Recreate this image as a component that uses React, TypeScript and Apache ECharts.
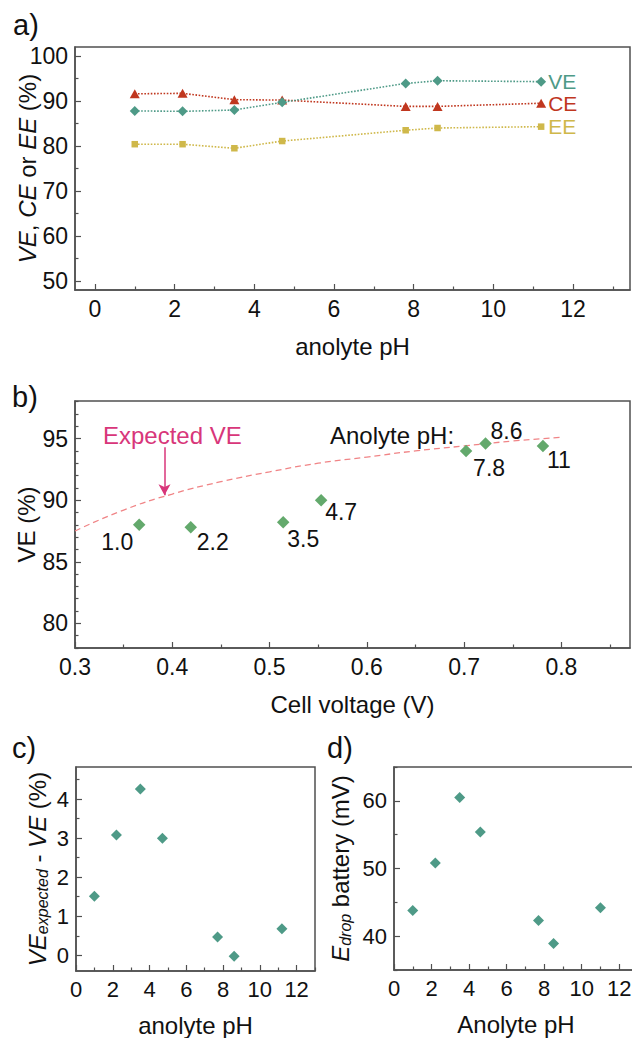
import React, { useEffect, useRef } from 'react';
import * as echarts from 'echarts';

// ---------- data ----------
// panel a
const pHA = [1.0, 2.2, 3.5, 4.7, 7.8, 8.6, 11.2];
const veA = [87.8, 87.7, 88.0, 89.7, 93.9, 94.5, 94.3];
const ceA = [91.6, 91.7, 90.3, 90.2, 88.8, 88.8, 89.5];
const eeA = [80.4, 80.4, 79.5, 81.1, 83.5, 84.0, 84.3];
// panel b
const cellVoltage = [0.366, 0.419, 0.514, 0.553, 0.702, 0.722, 0.781];
const veB = [88.0, 87.8, 88.2, 90.0, 94.0, 94.6, 94.4];
const pHLabels = ['1.0', '2.2', '3.5', '4.7', '7.8', '8.6', '11'];
const expectedV = [0.30, 0.35, 0.40, 0.45, 0.50, 0.55, 0.60, 0.65, 0.70, 0.75, 0.80];
const expectedVE = [87.5, 89.2, 90.5, 91.5, 92.3, 93.0, 93.5, 94.0, 94.4, 94.8, 95.1];
// panel c
const pHC = [1.0, 2.2, 3.5, 4.7, 7.7, 8.6, 11.2];
const veDiff = [1.51, 3.08, 4.26, 3.0, 0.47, -0.02, 0.68];
// panel d
const pHD = [1.0, 2.2, 3.5, 4.6, 7.7, 8.5, 11.0];
const eDrop = [43.8, 50.8, 60.5, 55.4, 42.3, 38.9, 44.2];

// tick labels
const phTicks = [0, 2, 4, 6, 8, 10, 12];
const phMinor = [1, 3, 5, 7, 9, 11, 13];
const effTicks = [50, 60, 70, 80, 90, 100];
const effMinor = [55, 65, 75, 85, 95];
const voltTicks = [0.3, 0.4, 0.5, 0.6, 0.7, 0.8];
const voltMinor = [0.35, 0.45, 0.55, 0.65, 0.75, 0.85];
const veTicks = [80, 85, 90, 95];
const veMinor = [78, 79, 81, 82, 83, 84, 86, 87, 88, 89, 91, 92, 93, 94, 96, 97, 98];
const diffTicks = [0, 1, 2, 3, 4];
const diffMinor = [0.5, 1.5, 2.5, 3.5, 4.5];
const dropTicks = [40, 50, 60];
const dropMinor = [35, 45, 55, 65];

const FONT = '"Liberation Sans", Arial, Helvetica, sans-serif';
const AX = '#505050';
const TXT = '#111111';
const C_VE = '#4e9a87';
const C_CE = '#c0371f';
const C_EE = '#cfb84a';
const C_B = '#63a96c';
const C_EXP = '#f08486';
const C_ARROW = '#d8367a';

function axes(dim: 'x' | 'y', gridIndex: number, min: number, max: number, major: number[], minor: number[], extra: any = {}) {
  const pos = dim === 'x' ? 'bottom' : 'left';
  const main = {
    type: 'value', gridIndex, min, max, position: pos,
    axisLine: { show: true, onZero: false, lineStyle: { color: AX, width: 1.5 } },
    axisTick: { show: true, inside: true, length: 6, customValues: major, lineStyle: { color: AX, width: 1.2 } },
    axisLabel: { show: true, customValues: major, fontSize: 23, fontFamily: FONT, color: TXT, margin: 7, ...(extra.axisLabel || {}) },
    splitLine: { show: false },
    nameLocation: 'middle',
    nameMoveOverlap: false,
    nameTextStyle: { fontSize: 24, fontFamily: FONT, color: TXT, ...(extra.nameTextStyle || {}) },
    name: extra.name, nameGap: extra.nameGap, nameRotate: extra.nameRotate,
  };
  const sub = {
    type: 'value', gridIndex, min, max, position: pos,
    axisLine: { show: false, onZero: false },
    axisTick: { show: true, inside: true, length: 3.5, customValues: minor, lineStyle: { color: AX, width: 1.2 } },
    axisLabel: { show: false },
    splitLine: { show: false },
  };
  return [main, sub];
}

export default function App() {
  const ref = useRef<HTMLDivElement>(null);
  useEffect(() => {
    if (!ref.current) return;
    const chart = echarts.init(ref.current, null, { renderer: 'svg' });
    const gridBase = {
      show: true, borderColor: AX, borderWidth: 1.5, backgroundColor: 'transparent',
      containLabel: false, outerBoundsMode: 'none',
    };
    const labelOffsets = [[-22, 17], [22, 15], [20, 17], [20, 12], [23, 17], [21, -13], [16, 14]];
    const richItalic = {
      i: { fontStyle: 'italic', fontSize: 24, fontFamily: FONT, color: TXT },
      n: { fontSize: 24, fontFamily: FONT, color: TXT },
      s: { fontStyle: 'italic', fontSize: 16, fontFamily: FONT, color: TXT, padding: [10, 0, 0, 0] },
    };
    const xAxis = [
      ...axes('x', 0, -0.5, 13.43, phTicks, phMinor, { name: 'anolyte pH', nameGap: 44 }),
      ...axes('x', 1, 0.3, 0.8705, voltTicks, voltMinor, { name: 'Cell voltage (V)', nameGap: 44, axisLabel: { formatter: (v: number) => v.toFixed(1) } }),
      ...axes('x', 2, 0, 13, phTicks, phMinor, { name: 'anolyte pH', nameGap: 42, axisLabel: { fontSize: 22 } }),
      ...axes('x', 3, 0, 13, phTicks, phMinor, { name: 'Anolyte pH', nameGap: 42, axisLabel: { fontSize: 22 } }),
    ];
    const yAxis = [
      ...axes('y', 0, 48, 102, effTicks, effMinor, {
        name: '{i|VE}{n|, }{i|CE}{n| or }{i|EE}{n| (%)}', nameGap: 36, nameTextStyle: { rich: richItalic },
      }),
      ...axes('y', 1, 78, 98.05, veTicks, veMinor, { name: 'VE (%)', nameGap: 37 }),
      ...axes('y', 2, -0.4, 4.82, diffTicks, diffMinor, {
        name: '{i|VE}{s|expected}{n| - }{i|VE}{n| (%)}', nameGap: 26, axisLabel: { fontSize: 22 }, nameTextStyle: { rich: richItalic },
      }),
      ...axes('y', 3, 35, 65, dropTicks, dropMinor, {
        name: '{i|E}{s|drop}{n| battery (mV)}', nameGap: 41, axisLabel: { fontSize: 22 }, nameTextStyle: { rich: richItalic },
      }),
    ];
    const lineSeries = (name: string, ys: number[], color: string, symbol: string, symbolSize: any) => ({
      type: 'line', name, xAxisIndex: 0, yAxisIndex: 0,
      data: pHA.map((x, i) => [x, ys[i]]),
      symbol, symbolSize, showSymbol: true,
      itemStyle: { color, opacity: 1 },
      lineStyle: { color, width: 1.6, type: 'dotted' },
      endLabel: { show: true, formatter: name, color, fontSize: 21, fontFamily: FONT, distance: 7 },
      z: 3,
    });
    const option: any = {
      animation: false,
      backgroundColor: '#ffffff',
      grid: [
        { ...gridBase, left: 75, top: 47, width: 555, height: 243 },
        { ...gridBase, left: 75, top: 401, width: 555, height: 247 },
        { ...gridBase, left: 76, top: 767, width: 239, height: 204 },
        { ...gridBase, left: 394, top: 767, width: 244, height: 203 },
      ],
      xAxis, yAxis,
      series: [
        lineSeries('CE', ceA, C_CE, 'triangle', [10, 9]),
        lineSeries('VE', veA, C_VE, 'diamond', 10),
        lineSeries('EE', eeA, C_EE, 'rect', 6.5),
        {
          type: 'line', name: 'Expected VE', xAxisIndex: 2, yAxisIndex: 2,
          data: expectedV.map((v, i) => [v, expectedVE[i]]),
          smooth: true, showSymbol: false, symbol: 'none',
          lineStyle: { color: C_EXP, width: 1.3, type: [6, 4] },
          markLine: {
            silent: true, symbol: ['none', 'arrow'], symbolSize: [9, 11],
            label: { show: false },
            lineStyle: { color: C_ARROW, width: 1.5, type: 'solid' },
            data: [[{ coord: [0.392, 94.3] }, { coord: [0.392, 90.4] }]],
          },
        },
        {
          type: 'scatter', name: 'VE vs cell voltage', xAxisIndex: 2, yAxisIndex: 2,
          symbol: 'diamond', symbolSize: 12.5,
          itemStyle: { color: C_B, opacity: 1 },
          data: cellVoltage.map((v, i) => ({ value: [v, veB[i]], label: { offset: labelOffsets[i] } })),
          label: {
            show: true, position: 'inside', fontSize: 23, fontFamily: FONT, color: TXT, opacity: 1,
            textBorderWidth: 0, textBorderColor: 'transparent',
            formatter: (p: any) => pHLabels[p.dataIndex],
          },
          z: 4,
        },
        {
          type: 'scatter', name: 'VE difference', xAxisIndex: 4, yAxisIndex: 4,
          symbol: 'diamond', symbolSize: 11, itemStyle: { color: C_VE, opacity: 1 },
          data: pHC.map((x, i) => [x, veDiff[i]]),
        },
        {
          type: 'scatter', name: 'E drop', xAxisIndex: 6, yAxisIndex: 6,
          symbol: 'diamond', symbolSize: 11, itemStyle: { color: C_VE, opacity: 1 },
          data: pHD.map((x, i) => [x, eDrop[i]]),
        },
      ],
      graphic: [
        { type: 'text', x: 13, y: 25, style: { text: 'a)', fontSize: 29, fontFamily: FONT, fill: TXT, verticalAlign: 'middle' } },
        { type: 'text', x: 12, y: 397, style: { text: 'b)', fontSize: 29, fontFamily: FONT, fill: TXT, verticalAlign: 'middle' } },
        { type: 'text', x: 12, y: 748, style: { text: 'c)', fontSize: 29, fontFamily: FONT, fill: TXT, verticalAlign: 'middle' } },
        { type: 'text', x: 327, y: 748, style: { text: 'd)', fontSize: 29, fontFamily: FONT, fill: TXT, verticalAlign: 'middle' } },
        { type: 'text', x: 103, y: 435, style: { text: 'Expected VE', fontSize: 24, fontFamily: FONT, fill: C_ARROW, verticalAlign: 'middle' } },
        { type: 'text', x: 330, y: 435, style: { text: 'Anolyte pH:', fontSize: 24, fontFamily: FONT, fill: TXT, verticalAlign: 'middle' } },
      ],
    };
    chart.setOption(option);
    return () => chart.dispose();
  }, []);
  return (
    <div
      ref={ref}
      style={{ position: 'absolute', left: 0, top: 0, width: 632, height: 1038, background: '#fff' }}
    />
  );
}
